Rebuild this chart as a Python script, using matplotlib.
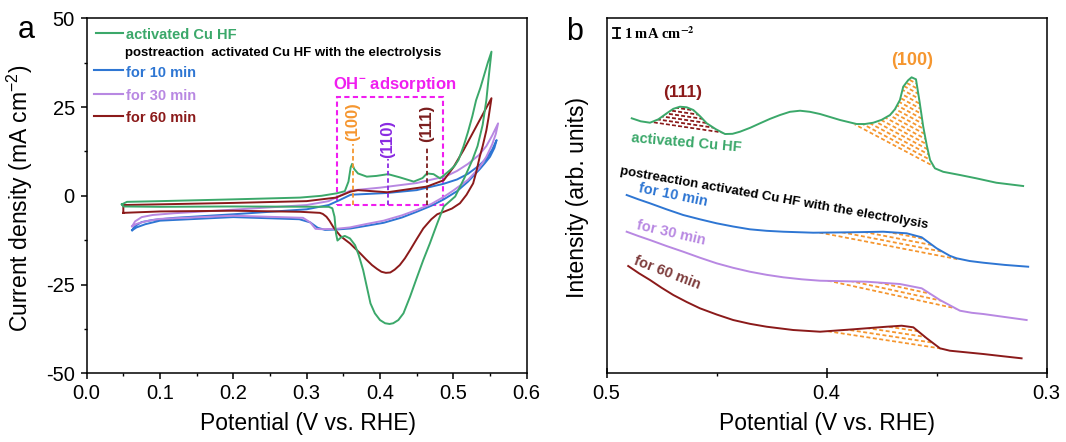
import numpy as np
import matplotlib
matplotlib.use('Agg')
import matplotlib.pyplot as plt
from matplotlib.patches import Polygon, Rectangle
from matplotlib.ticker import MultipleLocator, FormatStrFormatter

plt.rcParams['font.family'] = ['Liberation Sans', 'DejaVu Sans']
plt.rcParams['mathtext.fontset'] = 'custom'
plt.rcParams['mathtext.rm'] = 'Liberation Sans'
plt.rcParams['mathtext.it'] = 'Liberation Sans:italic'
plt.rcParams['mathtext.bf'] = 'Liberation Sans:bold'
plt.rcParams['axes.unicode_minus'] = False

# ---------------- Panel a : cyclic voltammograms ----------------
green_v = [0.048, 0.055, 0.10, 0.20, 0.291, 0.32, 0.341, 0.352, 0.357, 0.360, 0.362, 0.365, 0.370, 0.382,
           0.395, 0.411, 0.427, 0.446, 0.458, 0.464, 0.473, 0.482, 0.496, 0.502, 0.507, 0.514, 0.520, 0.526,
           0.531, 0.537, 0.542, 0.547, 0.552,
           0.548, 0.545, 0.540, 0.533, 0.526, 0.515, 0.5025, 0.487, 0.478, 0.468, 0.459, 0.450, 0.441,
           0.432, 0.425, 0.418, 0.413, 0.407, 0.400, 0.393, 0.387, 0.382, 0.377, 0.371, 0.366, 0.359,
           0.352, 0.347, 0.342, 0.340, 0.338, 0.335, 0.330, 0.20, 0.10, 0.05, 0.048]
green_j = [-2.4, -1.7, -1.5, -1.0, -0.5, 0.0, 0.7, 1.3, 4.0, 8.0, 9.0, 7.5, 6.3, 5.4,
           5.6, 6.1, 5.2, 4.0, 5.0, 6.3, 6.1, 4.9, 7.3, 8.5, 10.1, 14.0, 18.0, 22.5,
           26.9, 30.5, 34.0, 37.5, 40.6,
           33.0, 26.9, 20.0, 14.0, 10.1, 5.0, -0.2, -3.0, -7.8, -13.4, -18.1, -23.2, -28.4,
           -33.1, -35.0, -35.9, -36.1, -35.9, -35.0, -33.1, -30.3, -25.6, -20.9, -16.7, -13.9, -12.0,
           -11.3, -11.7, -12.6, -10.6, -5.9, -3.5, -3.1, -3.0, -3.1, -3.0, -2.4]

dred_v = [0.05, 0.05, 0.10, 0.20, 0.30, 0.34, 0.36, 0.37, 0.41, 0.464, 0.487, 0.500, 0.514, 0.552,
          0.548, 0.545, 0.540, 0.536, 0.531, 0.527, 0.518, 0.509, 0.498, 0.487, 0.478, 0.470, 0.464,
          0.459, 0.450, 0.441, 0.434, 0.427, 0.420, 0.414, 0.408, 0.402, 0.396, 0.389, 0.381, 0.373,
          0.366, 0.359, 0.352, 0.346, 0.340, 0.336, 0.331, 0.327, 0.322, 0.318, 0.291, 0.20, 0.10, 0.05]
dred_j = [-4.8, -2.6, -2.4, -2.0, -1.5, -0.5, 1.2, 1.6, 1.0, 2.6, 4.4, 8.0, 12.9, 27.5,
          22.0, 18.4, 14.0, 11.0, 6.5, 3.5, 0.3, -2.1, -3.6, -4.5, -5.2, -6.6, -8.0,
          -9.2, -12.2, -15.3, -17.6, -19.5, -20.8, -21.6, -21.7, -21.4, -20.6, -19.5, -17.9, -16.2,
          -14.8, -13.4, -12.3, -11.3, -9.8, -8.7, -7.0, -5.9, -5.1, -4.8, -4.5, -4.2, -4.4, -4.8]

purp_v = [0.062, 0.066, 0.075, 0.09, 0.12, 0.20, 0.30, 0.33, 0.35, 0.36, 0.40, 0.45, 0.49, 0.505, 0.52,
          0.535, 0.545, 0.553, 0.561,
          0.558, 0.553, 0.545, 0.535, 0.52, 0.50, 0.487, 0.47, 0.45, 0.43, 0.405, 0.38, 0.359, 0.34,
          0.32, 0.312, 0.305, 0.295, 0.20, 0.10, 0.08, 0.068, 0.062]
purp_j = [-8.6, -7.2, -6.0, -5.4, -4.9, -3.9, -2.6, -1.5, 0.5, 1.5, 2.3, 3.6, 5.5, 7.0, 9.0,
          11.5, 14.0, 17.0, 20.4,
          17.5, 14.5, 11.0, 7.8, 4.5, 1.5, -0.3, -2.3, -4.0, -5.5, -7.0, -8.0, -8.9, -9.3,
          -9.4, -9.3, -7.5, -6.2, -5.6, -6.5, -7.2, -7.9, -8.6]

blue_v = [0.062, 0.066, 0.075, 0.09, 0.12, 0.20, 0.30, 0.33, 0.345, 0.36, 0.41, 0.45, 0.487, 0.505,
          0.52, 0.535, 0.545, 0.553, 0.559,
          0.556, 0.55, 0.543, 0.536, 0.52, 0.505, 0.487, 0.47, 0.45, 0.43, 0.405, 0.38, 0.36, 0.34,
          0.325, 0.315, 0.305, 0.29, 0.20, 0.10, 0.08, 0.068, 0.062]
blue_j = [-9.7, -8.5, -7.4, -6.8, -6.2, -5.2, -3.8, -2.6, -1.2, 0.3, 0.8, 1.6, 3.4, 4.6,
          6.2, 8.5, 10.5, 13.0, 15.7,
          13.5, 11.0, 9.2, 7.5, 4.0, 1.3, -1.0, -2.8, -4.5, -6.1, -7.6, -8.5, -9.2, -9.5,
          -9.6, -9.0, -7.5, -6.6, -6.0, -7.0, -8.0, -8.9, -9.7]

facet_labels = ['(100)', '(110)', '(111)']
facet_pot = [0.3627, 0.411, 0.4636]

legend_a = ['activated Cu HF', 'for 10 min', 'for 30 min', 'for 60 min']
legend_header = 'postreaction  activated Cu HF with the electrolysis'

# ---------------- Panel b : OH- adsorption region ----------------
bg_v = [0.4886, 0.4845, 0.4803, 0.4765, 0.4727, 0.4697, 0.4667, 0.4636, 0.4606, 0.4575, 0.4545, 0.4503,
        0.4462, 0.4428, 0.4394, 0.4348, 0.4303, 0.4257, 0.4212, 0.4167, 0.4121, 0.4076, 0.4030, 0.3939,
        0.3864, 0.3826, 0.3788, 0.3750, 0.3712, 0.3690, 0.3667, 0.3652, 0.3630, 0.3614, 0.3594, 0.3578,
        0.3561, 0.3545, 0.3530, 0.3508, 0.3470, 0.3394, 0.3320, 0.3229, 0.3107]
bg_i = [255, 252, 250.6, 254, 260, 264.5, 266.6, 266, 263.3, 257, 250, 244,
        239.3, 239.5, 241.6, 245.5, 250, 254.5, 258.3, 261.5, 262.6, 261.5, 259.3, 253.3,
        249.3, 249.3, 250.6, 253.5, 258.3, 264, 273.3, 286.6, 293, 296, 294, 272,
        246.6, 228, 213.3, 205, 201.5, 198.3, 195, 190.6, 187.3]
bb_v = [0.4909, 0.4856, 0.4803, 0.4728, 0.4652, 0.4576, 0.4500, 0.4425, 0.4349, 0.4273, 0.4197, 0.4061,
        0.3894, 0.3743, 0.3636, 0.3568, 0.3500, 0.3440, 0.3409, 0.3350, 0.3288, 0.3190, 0.3084]
bb_i = [178.3, 174, 170, 164, 158.3, 154, 150, 146.8, 144, 142.5, 141.6, 140.6,
        141, 141.6, 140, 136, 125, 117.5, 115, 112.3, 110.6, 108.4, 106.6]
bp_v = [0.4909, 0.4856, 0.4803, 0.4728, 0.4652, 0.4576, 0.4500, 0.4425, 0.4349, 0.4273, 0.4197, 0.4113,
        0.4030, 0.3818, 0.3667, 0.3568, 0.3485, 0.3394, 0.3340, 0.3288, 0.3190, 0.3091]
bp_i = [141.6, 137.3, 133.3, 127.3, 121.6, 115.6, 110, 105.5, 101.6, 98.5, 96, 94,
        92.6, 91.6, 89.3, 85, 73.3, 62.6, 60.5, 59.3, 56.3, 53.3]
br_v = [0.4902, 0.4853, 0.4803, 0.4750, 0.4697, 0.4636, 0.4576, 0.4500, 0.4425, 0.4349, 0.4273, 0.4152,
        0.4030, 0.3879, 0.3727, 0.3659, 0.3606, 0.3545, 0.3485, 0.3440, 0.3394, 0.3288, 0.3200, 0.3114]
br_i = [107.3, 100, 93.3, 85.5, 78.3, 71.3, 65, 58.8, 53.3, 49.5, 46.6, 43.3,
        41.6, 44, 46.6, 47.6, 46, 35, 25, 22.6, 21.6, 19.3, 17.1, 15]

# integration baselines (start, end) for hatched peaks
g111_base = [(0.4811, 250.6), (0.4462, 239.3)]
g100_base = [(0.3879, 248.3), (0.3508, 205.0)]
b100_base = [(0.4061, 140.6), (0.3402, 112.6)]
p100_base = [(0.4023, 92.6), (0.3394, 62.6)]
r100_base = [(0.4023, 41.6), (0.3477, 23.3)]

C_GREEN = '#3BA86A'
C_BLUE = '#2E76D3'
C_PURP = '#B888E2'
C_DRED = '#8B1A1A'
C_ORNG = '#F5962F'
C_MAG = '#F01EF0'
C_VIOL = '#8A2BE2'

fig = plt.figure(figsize=(10.66, 4.42), dpi=100)
axa = fig.add_axes([0.0813, 0.1554, 0.41276, 0.80317])
axb = fig.add_axes([0.5691, 0.1554, 0.41276, 0.80317])

LW = 1.4
for v, j, c in [(blue_v, blue_j, C_BLUE), (purp_v, purp_j, C_PURP),
                (dred_v, dred_j, C_DRED), (green_v, green_j, C_GREEN)]:
    axa.plot(v, j, color=c, lw=LW, solid_joinstyle='round')

axa.set_xlim(0.0, 0.6)
axa.set_ylim(-50, 50)
axa.xaxis.set_major_locator(MultipleLocator(0.1))
axa.xaxis.set_minor_locator(MultipleLocator(0.05))
axa.yaxis.set_major_locator(MultipleLocator(25))
axa.yaxis.set_minor_locator(MultipleLocator(12.5))
axa.xaxis.set_major_formatter(FormatStrFormatter('%.1f'))
axa.tick_params(axis='both', which='major', direction='out', length=4.5, width=1.1, labelsize=14.5)
axa.tick_params(axis='x', which='major', pad=3.5)
axa.tick_params(axis='y', which='major', pad=4)
axa.tick_params(axis='both', which='minor', direction='out', length=2.5, width=1.0)
for s in axa.spines.values():
    s.set_linewidth(1.1)
axa.set_xlabel('Potential (V vs. RHE)', fontsize=16.5)
axa.set_ylabel('Current density (mA cm$^{-2}$)', fontsize=16.5)
axa.xaxis.set_label_coords(0.502, -0.108)
axa.yaxis.set_label_coords(-0.118, 0.494)

# OH- adsorption box
axa.add_patch(Rectangle((0.341, -2.6), 0.145, 30.5, fill=False, ec=C_MAG, lw=1.5,
                        ls=(0, (2.5, 1.6))))
axa.text(0.42, 31.3, 'OH$^{\\mathbf{-}}$ adsorption', color=C_MAG, fontsize=12,
         fontweight='bold', ha='center', va='center')
fac_cols = [C_ORNG, C_VIOL, '#7B1E1E']
fac_top = [14.5, 10.5, 14.0]
fac_txt = [21.0, 16.0, 20.5]
for lab, p, c, t, tt in zip(facet_labels, facet_pot, fac_cols, fac_top, fac_txt):
    axa.plot([p, p], [-2.6, t], color=c, lw=1.3, ls=(0, (2.5, 1.6)))
    axa.text(p, tt, lab, rotation=90, color=c, fontsize=12, fontweight='bold',
             ha='center', va='center')

# manual legend
leg_cols = [C_GREEN, C_BLUE, C_PURP, C_DRED]
leg_y = [0.953, 0.847, 0.782, 0.718]
leg_x0 = [0.021, 0.016, 0.016, 0.016]
for lab, c, y, x0 in zip(legend_a, leg_cols, leg_y, leg_x0):
    axa.plot([x0, 0.083], [y + 0.006, y + 0.006], color=c, lw=1.5, transform=axa.transAxes)
    axa.text(0.089, y, lab, color=c, fontsize=10.5, fontweight='bold',
             transform=axa.transAxes, ha='left', va='center')
axa.text(0.087, 0.901, legend_header, color='black', fontsize=9.5, fontweight='bold',
         transform=axa.transAxes, ha='left', va='center')

# ---------------- Panel b ----------------
def hatch(ax, cv, ci, base, color, gap, on, off, lw):
    (v1, i1), (v2, i2) = base
    cv = np.asarray(cv, float)
    ci = np.asarray(ci, float)
    m = (cv < v1) & (cv > v2)
    poly = [(v1, i1)] + list(zip(cv[m], ci[m])) + [(v2, i2)]
    patch = Polygon(poly, closed=True, fc='none', ec='none', transform=ax.transData)
    ax.add_patch(patch)
    slope = (i2 - i1) / (v2 - v1)
    height = np.max(ci[m] - (i1 + slope * (cv[m] - v1))) if m.any() else 0
    n = int(height / gap) + 2
    vv = np.array([v1 + 0.003, v2 - 0.003])
    for k in range(n):
        ii = i1 + slope * (vv - v1) + gap * (k + 0.3)
        ln, = ax.plot(vv, ii, color=color, lw=lw,
                      linestyle=(((k % 2) * (on + off) / 2.0), (on, off)),
                      dash_capstyle='butt')
        ln.set_clip_path(patch)

hatch(axb, bg_v, bg_i, g111_base, '#8B1A1A', 3.6, 2.2, 1.2, 1.3)
hatch(axb, bg_v, bg_i, g100_base, C_ORNG, 4.6, 2.2, 1.4, 1.3)
hatch(axb, bb_v, bb_i, b100_base, C_ORNG, 4.6, 2.2, 1.4, 1.3)
hatch(axb, bp_v, bp_i, p100_base, C_ORNG, 4.6, 2.2, 1.4, 1.3)
hatch(axb, br_v, br_i, r100_base, C_ORNG, 4.6, 2.2, 1.4, 1.3)

for v, i, c in [(bg_v, bg_i, C_GREEN), (bb_v, bb_i, C_BLUE), (bp_v, bp_i, C_PURP), (br_v, br_i, C_DRED)]:
    axb.plot(v, i, color=c, lw=LW, solid_joinstyle='round')

axb.set_xlim(0.5, 0.3)
axb.set_ylim(0, 355)
axb.xaxis.set_major_locator(MultipleLocator(0.1))
axb.xaxis.set_minor_locator(MultipleLocator(0.05))
axb.xaxis.set_major_formatter(FormatStrFormatter('%.1f'))
axb.set_yticks([])
axb.tick_params(axis='x', which='major', direction='inout', length=6.5, width=1.1, labelsize=14.5, pad=4.5)
axb.tick_params(axis='x', which='minor', direction='out', length=2.5, width=1.0)
for s in axb.spines.values():
    s.set_linewidth(1.1)
axb.set_xlabel('Potential (V vs. RHE)', fontsize=16.5)
axb.set_ylabel('Intensity (arb. units)', fontsize=16.5)
axb.xaxis.set_label_coords(0.5, -0.108)
axb.yaxis.set_label_coords(-0.040, 0.495)

axb.text(0.4655, 280.6, '(111)', color='#8B1A1A', fontsize=12.5, fontweight='bold', ha='center', va='center')
axb.text(0.3610, 313.3, '(100)', color=C_ORNG, fontsize=13, fontweight='bold', ha='center', va='center')
axb.text(0.4636, 230.8, 'activated Cu HF', color=C_GREEN, fontsize=10.5, fontweight='bold',
         ha='center', va='center', rotation=-5, rotation_mode='anchor')
axb.text(0.4241, 175.5, 'postreaction activated Cu HF with the electrolysis', color='black',
         fontsize=9.5, fontweight='bold', ha='center', va='center', rotation=-10, rotation_mode='anchor')
axb.text(0.4697, 178.3, 'for 10 min', color=C_BLUE, fontsize=10.5, fontweight='bold',
         ha='center', va='center', rotation=-11.5, rotation_mode='anchor')
axb.text(0.4709, 140.0, 'for 30 min', color=C_PURP, fontsize=10.5, fontweight='bold',
         ha='center', va='center', rotation=-13, rotation_mode='anchor')
axb.text(0.4725, 100.6, 'for 60 min', color='#7D3C3C', fontsize=10.5, fontweight='bold',
         ha='center', va='center', rotation=-21, rotation_mode='anchor')

# scale bar
bx, by0, by1, cw = 0.0227, 0.9445, 0.9727, 0.008
axb.plot([bx, bx], [by0, by1], color='black', lw=1.3, transform=axb.transAxes)
axb.plot([bx - cw, bx + cw], [by0, by0], color='black', lw=1.3, transform=axb.transAxes)
axb.plot([bx - cw, bx + cw], [by1, by1], color='black', lw=1.3, transform=axb.transAxes)
axb.text(0.040, 0.958, '1 mA cm$^{\\mathbf{-2}}$', family=['Liberation Serif'], fontweight='bold',
         fontsize=10.5, math_fontfamily='stix', transform=axb.transAxes, ha='left', va='center')

fig.text(0.0244, 0.914, 'a', fontsize=22, ha='center', va='baseline')
fig.text(0.5394, 0.9095, 'b', fontsize=22, ha='center', va='baseline')

fig.savefig('out.png', dpi=100)
